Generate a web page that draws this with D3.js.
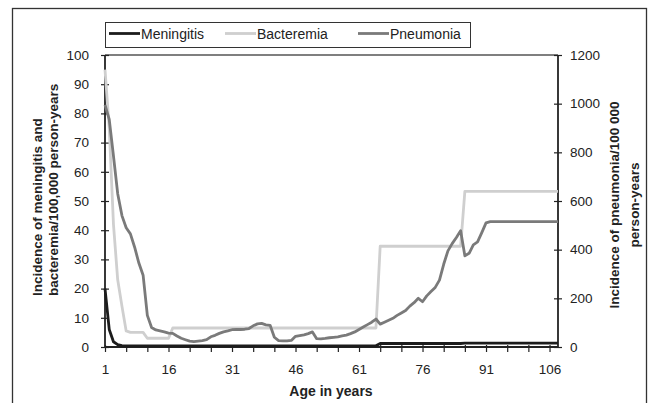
<!DOCTYPE html>
<html><head><meta charset="utf-8">
<script src="https://cdn.jsdelivr.net/npm/d3@7"></script>
<style>
body{margin:0;background:#fff}
svg{display:block}
text{font-family:"Liberation Sans",Arial,Helvetica,sans-serif;fill:#222}
</style>
</head><body>
<svg id="chart" width="655" height="403"></svg>
<script>
// Category axis: age (category index 1..108)
const ages = [1,2,3,4,5,6,7,8,9,10,11,12,13,14,15,16,17,18,19,20,21,22,23,24,25,26,27,28,29,30,
  31,32,33,34,35,36,37,38,39,40,41,42,43,44,45,46,47,48,49,50,51,52,53,54,55,56,57,58,59,60,
  61,62,63,64,65,66,67,68,69,70,71,72,73,74,75,76,77,78,79,80,81,82,83,84,85,86,87,88,89,90,
  91,92,93,94,95,96,97,98,99,100,101,102,103,104,105,106,107,108];

// Incidence per 100,000 person-years (left axis)
const meningitis = [20,6,1.8,0.8,0.5,
  0.4,0.4,0.4,0.4,0.4,0.4,0.4,0.4,0.4,0.4,0.4,0.4,0.4,0.4,0.4,0.4,0.4,0.4,0.4,0.4,
  0.4,0.4,0.4,0.4,0.4,0.4,0.4,0.4,0.4,0.4,0.4,0.4,0.4,0.4,0.4,0.4,0.4,0.4,0.4,0.4,
  0.4,0.4,0.4,0.4,0.4,0.4,0.4,0.4,0.4,0.4,0.4,0.4,0.4,0.4,0.4,0.4,0.4,0.4,0.4,0.4,
  1.2,1.2,1.2,1.2,1.2,1.2,1.2,1.2,1.2,1.2,1.2,1.2,1.2,1.2,1.2,1.2,1.2,1.2,1.2,1.2,
  1.3,1.3,1.3,1.3,1.3,1.3,1.3,1.3,1.3,1.3,1.3,1.3,1.3,1.3,1.3,1.3,1.3,1.3,1.3,1.3,1.3,1.3,1.3];

const bacteremia = [95,75,42,23,14,5.5,
  5,5,5,5,
  3,3,3,3,3,3,
  6.5,6.5,6.5,6.5,6.5,6.5,6.5,6.5,6.5,6.5,6.5,6.5,6.5,6.5,6.5,6.5,6.5,6.5,6.5,6.5,
  6.5,6.5,6.5,6.5,6.5,6.5,6.5,6.5,6.5,6.5,6.5,6.5,6.5,6.5,6.5,6.5,6.5,6.5,6.5,6.5,
  6.5,6.5,6.5,6.5,6.5,6.5,6.5,6.5,6.5,
  34.5,34.5,34.5,34.5,34.5,34.5,34.5,34.5,34.5,34.5,34.5,34.5,34.5,34.5,34.5,34.5,34.5,34.5,34.5,34.5,
  53.3,53.3,53.3,53.3,53.3,53.3,53.3,53.3,53.3,53.3,53.3,53.3,53.3,53.3,53.3,53.3,53.3,53.3,53.3,53.3,53.3,53.3,53.3];

// Incidence per 100 000 person-years (right axis)
const pneumonia = [995,935,785,630,540,490,465,410,345,295,
  130,80,70,66,62,57,56,45,36,30,
  24,22,24,26,30,42,48,56,62,66,
  71,72,72,73,76,87,95,97,91,89,
  40,26,25,25,27,44,47,50,55,62,
  34,33,35,38,40,42,46,49,55,62,
  72,82,92,102,115,94,102,110,118,130,
  140,150,168,182,200,186,210,228,245,275,
  340,395,425,450,478,375,385,420,432,470,
  510,515,515,515,515,515,515,515,515,515,515,515,515,515,515,515,515,515];

const leftTicks = [0,10,20,30,40,50,60,70,80,90,100];
const rightTicks = [0,200,400,600,800,1000,1200];
const xTickValues = [1,6,11,16,21,26,31,36,41,46,51,56,61,66,71,76,81,86,91,96,101,106];
const xLabelValues = [1,16,31,46,61,76,91,106];

const seriesNames = ["Meningitis","Bacteremia","Pneumonia"];
const seriesColors = ["#1c1c1c","#cfcfcf","#7a7a7a"];

const svg = d3.select("#chart");
const L = 105, R = 558, T = 55, B = 347;
const x = d3.scaleLinear().domain([ages[0], ages[ages.length-1]]).range([L, R]);
const yL = d3.scaleLinear().domain([0, 100]).range([B, T]);
const yR = d3.scaleLinear().domain([0, 1200]).range([B, T]);

// outer frame
svg.append("rect").attr("x", 12.5).attr("y", 8.5).attr("width", 634).attr("height", 420)
  .attr("fill", "none").attr("stroke", "#333").attr("stroke-width", 1.3);

// top plot border
svg.append("line").attr("x1", L).attr("x2", R).attr("y1", T).attr("y2", T)
  .attr("stroke", "#555").attr("stroke-width", 1.5);

// axes
const axisColor = "#222";
const gL = svg.append("g").attr("transform", `translate(${L},0)`)
  .call(d3.axisLeft(yL).tickValues(leftTicks).tickSize(4).tickPadding(12));
const gR = svg.append("g").attr("transform", `translate(${R},0)`)
  .call(d3.axisRight(yR).tickValues(rightTicks).tickSize(4).tickPadding(8).tickFormat(d3.format("d")));
const gX = svg.append("g").attr("transform", `translate(0,${B})`)
  .call(d3.axisBottom(x).tickValues(xTickValues).tickSize(5).tickPadding(10)
    .tickFormat(d => xLabelValues.includes(d) ? d : ""));

[gL, gR, gX].forEach(g => {
  g.select(".domain").attr("stroke", axisColor).attr("stroke-width", 1.8);
  g.selectAll(".tick line").attr("stroke", axisColor).attr("stroke-width", 1.2);
  g.selectAll(".tick text").attr("font-size", 13.5).attr("fill", "#222")
    .style("font-family", '"Liberation Sans",Arial,sans-serif');
});
gL.select(".domain").attr("d", `M0,${T}V${B}`);
gR.select(".domain").attr("d", `M0,${T}V${B}`);
gX.select(".domain").attr("d", `M${L},0H${R}`);
gL.selectAll(".tick line").attr("x1", 4).attr("x2", -4);
gR.selectAll(".tick line").attr("x1", -4).attr("x2", 4);
gX.selectAll(".tick line").attr("y1", -2).attr("y2", 5);
gX.selectAll(".tick text").attr("dy", "0.71em").attr("y", 17);

// series
const lineL = d3.line().x((d, i) => x(ages[i])).y(d => yL(d));
const lineR = d3.line().x((d, i) => x(ages[i])).y(d => yR(d));
const data = [meningitis, bacteremia, pneumonia];
const gens = [lineL, lineL, lineR];
[1, 0, 2].forEach(k => {
  svg.append("path").datum(data[k]).attr("d", gens[k])
    .attr("fill", "none").attr("stroke", seriesColors[k]).attr("stroke-width", 2.8)
    .attr("stroke-linejoin", "round");
});

// axis titles
const tL = svg.append("text").attr("transform", "translate(42,296) rotate(-90)")
  .attr("text-anchor", "start").attr("font-size", 13.5).attr("font-weight", "bold");
tL.append("tspan").attr("x", 0).attr("dy", 0).text("Incidence of meningitis and");
tL.append("tspan").attr("x", 0).attr("dy", 16).text("bacteremia/100,000 person-years");

const tR = svg.append("text").attr("transform", "translate(619,205) rotate(-90)")
  .attr("text-anchor", "middle").attr("font-size", 13.5).attr("font-weight", "bold");
tR.append("tspan").attr("x", 0).attr("dy", 0).text("Incidence of pneumonia/100 000");
tR.append("tspan").attr("x", 0).attr("dy", 20).text("person-years");

svg.append("text").attr("x", 331).attr("y", 396).attr("text-anchor", "middle")
  .attr("font-size", 14).attr("font-weight", "bold").text("Age in years");

// legend
const lg = svg.append("g");
lg.append("rect").attr("x", 105.5).attr("y", 22.5).attr("width", 365).attr("height", 25)
  .attr("fill", "#fff").attr("stroke", "#333").attr("stroke-width", 1);
const legX = [109, 225, 358];
seriesNames.forEach((n, k) => {
  lg.append("line").attr("x1", legX[k]).attr("x2", legX[k] + 31).attr("y1", 33.5).attr("y2", 33.5)
    .attr("stroke", seriesColors[k]).attr("stroke-width", 2.8);
  lg.append("text").attr("x", legX[k] + 32).attr("y", 39).attr("font-size", 14).text(n);
});
</script>
</body></html>
